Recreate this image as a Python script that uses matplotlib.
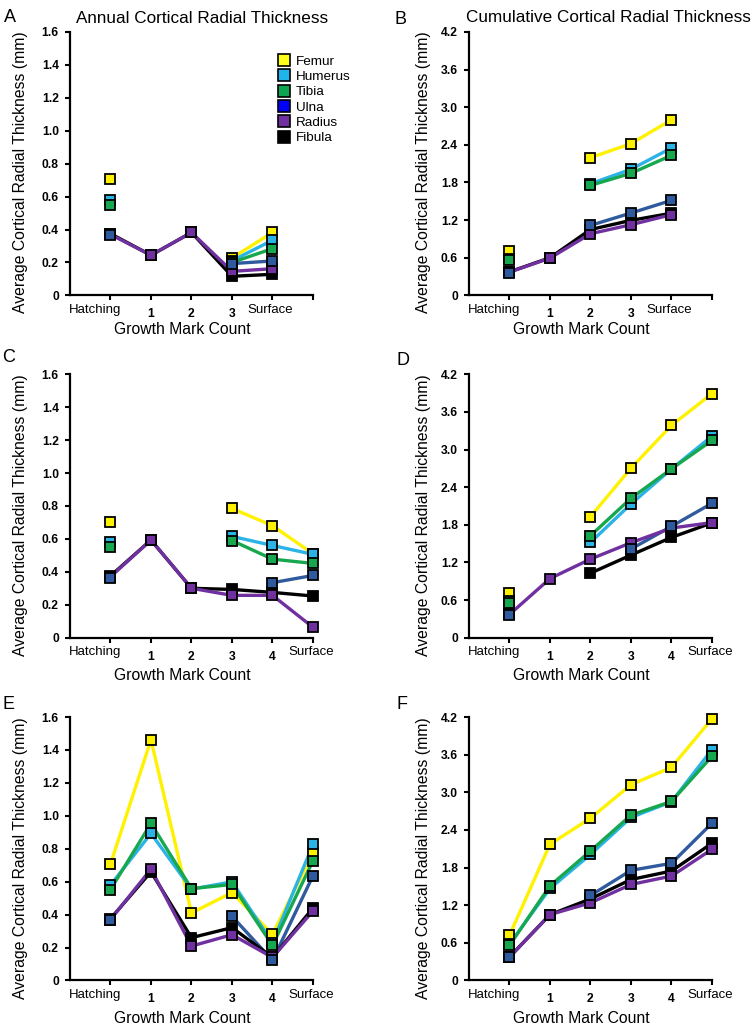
import numpy as np
import matplotlib
matplotlib.use('Agg')
import matplotlib.pyplot as plt
from matplotlib.lines import Line2D
from matplotlib.transforms import ScaledTranslation

plt.rcParams['font.family'] = ['Liberation Sans', 'DejaVu Sans']

nan = np.nan

bones = ['Femur', 'Humerus', 'Tibia', 'Ulna', 'Radius', 'Fibula']
line_colors = {'Femur': '#fff200', 'Humerus': '#2bb3e6', 'Tibia': '#17a84f',
               'Ulna': '#2f5a9e', 'Radius': '#7030a0', 'Fibula': '#000000'}
legend_colors = {'Femur': '#ffff1a', 'Humerus': '#1fb4ea', 'Tibia': '#0ea552',
                 'Ulna': '#0000ff', 'Radius': '#7030a0', 'Fibula': '#000000'}

labels_3 = ['Hatching', '1', '2', '3', 'Surface', '']
labels_4 = ['Hatching', '1', '2', '3', '4', 'Surface']

# A: annual thickness, 3 growth marks
annual_3 = {
    'Femur':   [0.707, nan, nan, 0.227, 0.382],
    'Humerus': [0.580, nan, nan, 0.210, 0.335],
    'Tibia':   [0.552, nan, nan, 0.200, 0.284],
    'Ulna':    [0.365, nan, nan, 0.193, 0.209],
    'Radius':  [0.370, 0.244, 0.382, 0.146, 0.162],
    'Fibula':  [0.375, 0.244, 0.382, 0.116, 0.128],
}
# B: cumulative thickness, 3 growth marks
cumul_3 = {
    'Femur':   [0.707, nan, 2.196, 2.419, 2.800],
    'Humerus': [0.580, nan, 1.780, 2.010, 2.350],
    'Tibia':   [0.558, nan, 1.754, 1.946, 2.233],
    'Ulna':    [0.361, nan, 1.116, 1.313, 1.515],
    'Radius':  [0.370, 0.595, 0.983, 1.127, 1.287],
    'Fibula':  [0.375, 0.600, 1.050, 1.196, 1.310],
}
# C: annual thickness, 4 growth marks (first group)
annual_4a = {
    'Femur':   [0.704, nan, nan, 0.785, 0.680, 0.510],
    'Humerus': [0.580, nan, nan, 0.615, 0.560, 0.506],
    'Tibia':   [0.552, nan, nan, 0.590, 0.477, 0.451],
    'Ulna':    [0.364, nan, nan, nan, 0.334, 0.378],
    'Radius':  [0.370, 0.593, 0.300, 0.257, 0.257, 0.063],
    'Fibula':  [0.375, 0.593, 0.300, 0.293, 0.275, 0.253],
}
# D: cumulative thickness, 4 growth marks (first group)
cumul_4a = {
    'Femur':   [0.709, nan, 1.930, 2.703, 3.385, 3.891],
    'Humerus': [0.580, nan, 1.519, 2.132, 2.690, 3.214],
    'Tibia':   [0.549, nan, 1.626, 2.223, 2.692, 3.145],
    'Ulna':    [0.357, nan, nan, 1.413, 1.775, 2.143],
    'Radius':  [0.370, 0.943, 1.253, 1.514, 1.748, 1.835],
    'Fibula':  [0.375, nan, 1.029, 1.317, 1.599, 1.830],
}
# E: annual thickness, 4 growth marks (second group)
annual_4b = {
    'Femur':   [0.707, 1.462, 0.410, 0.534, 0.280, 0.775],
    'Humerus': [0.579, 0.893, 0.555, 0.599, 0.230, 0.826],
    'Tibia':   [0.552, 0.954, 0.558, 0.583, 0.213, 0.727],
    'Ulna':    [0.365, nan, nan, 0.390, 0.122, 0.636],
    'Radius':  [0.370, 0.676, 0.209, 0.278, 0.140, 0.422],
    'Fibula':  [0.375, 0.660, 0.260, 0.321, 0.140, 0.440],
}
# F: cumulative thickness, 4 growth marks (second group)
cumul_4b = {
    'Femur':   [0.720, 2.172, 2.588, 3.121, 3.399, 4.173],
    'Humerus': [0.580, 1.467, 2.010, 2.600, 2.850, 3.682],
    'Tibia':   [0.560, 1.510, 2.065, 2.636, 2.855, 3.575],
    'Ulna':    [0.368, nan, 1.355, 1.756, 1.868, 2.508],
    'Radius':  [0.370, 1.051, 1.238, 1.531, 1.665, 2.092],
    'Fibula':  [0.375, 1.050, 1.300, 1.610, 1.745, 2.188],
}

annual_ticks = [0, 0.2, 0.4, 0.6, 0.8, 1.0, 1.2, 1.4, 1.6]
cumul_ticks = [0, 0.6, 1.2, 1.8, 2.4, 3.0, 3.6, 4.2]

line_order = ['Femur', 'Humerus', 'Tibia', 'Ulna', 'Fibula', 'Radius']
marker_order = ['Femur', 'Humerus', 'Tibia', 'Fibula', 'Radius', 'Ulna']

fig = plt.figure(figsize=(7.54, 10.31), dpi=100)

left_x, right_x = 0.0928, 0.622
width, height = 0.3223, 0.2555
row_bottoms = [0.7135, 0.3815, 0.049]

panels = [
    ('A', annual_3, labels_3, annual_ticks, left_x, row_bottoms[0]),
    ('B', cumul_3, labels_3, cumul_ticks, right_x, row_bottoms[0]),
    ('C', annual_4a, labels_4, annual_ticks, left_x, row_bottoms[1]),
    ('D', cumul_4a, labels_4, cumul_ticks, right_x, row_bottoms[1]),
    ('E', annual_4b, labels_4, annual_ticks, left_x, row_bottoms[2]),
    ('F', cumul_4b, labels_4, cumul_ticks, right_x, row_bottoms[2]),
]

axes = {}
for letter, data, xlabels, yticks, x0, y0 in panels:
    ax = fig.add_axes([x0, y0, width, height])
    axes[letter] = ax
    for bone in line_order:
        vals = data[bone]
        ax.plot(np.arange(len(vals)), vals, color=line_colors[bone], lw=2.4,
                zorder=2, clip_on=False, solid_capstyle='butt')
    for bone in marker_order:
        vals = data[bone]
        ax.plot(np.arange(len(vals)), vals, ls='none', marker='s', ms=7,
                mfc=line_colors[bone], mec='black', mew=1.3, zorder=3, clip_on=False)

    ax.set_xlim(-1, 5)
    ax.set_ylim(0, yticks[-1])
    ax.set_yticks(yticks)
    ax.set_yticklabels(['0'] + ['%.1f' % t for t in yticks[1:]])
    ax.set_xticks(range(6))
    ax.set_xticklabels(xlabels)

    for s in ['top', 'right']:
        ax.spines[s].set_visible(False)
    for s in ['left', 'bottom']:
        ax.spines[s].set_linewidth(1.6)
    ax.tick_params(axis='y', direction='out', length=3.5, width=1.5, pad=4.5,
                   labelsize=8.7)
    ax.tick_params(axis='x', direction='out', length=3.8, width=1.5, pad=5.5,
                   labelsize=8.7)
    for lab in ax.get_yticklabels():
        lab.set_fontweight('bold')
    for lab in ax.get_xticklabels():
        t = lab.get_text()
        if t == 'Hatching':
            dx, dy = -15, 4.5
        elif t == 'Surface':
            dx, dy = -2, 4.5
        else:
            lab.set_fontweight('bold')
            continue
        lab.set_fontsize(9.5)
        lab.set_transform(lab.get_transform() +
                          ScaledTranslation(dx / 100, dy / 100, fig.dpi_scale_trans))

    ax.set_ylabel('Average Cortical Radial Thickness (mm)', fontsize=11.3)
    ax.set_xlabel('Growth Mark Count', fontsize=11.3)
    ax.yaxis.set_label_coords(-0.173 if x0 == left_x else -0.157, 0.466)
    ax.xaxis.set_label_coords(0.462, -0.10 if letter in 'AB' else -0.115)
    ax.xaxis.label.set_va('top')

axes['A'].set_title('Annual Cortical Radial Thickness', fontsize=12.3, x=0.543, pad=6.5)
axes['B'].set_title('Cumulative Cortical Radial Thickness', fontsize=12.3, x=0.574, pad=7)

handles = [Line2D([], [], ls='none', marker='s', ms=8.5, mfc=legend_colors[b],
                  mec='black', mew=1.2) for b in bones]
axes['A'].legend(handles, bones, loc='upper left', bbox_to_anchor=(0.82, 0.948),
                 frameon=False, fontsize=9.7, handlelength=0.8, handletextpad=0.45,
                 labelspacing=0.22, borderpad=0.2)

letter_pos = {'A': (4, 9), 'B': (395, 11), 'C': (2, 349), 'D': (397, 352),
              'E': (2, 696), 'F': (397, 696)}
for letter, (px, py) in letter_pos.items():
    fig.text(px / 754, 1 - py / 1031, letter, fontsize=13, va='top', ha='left')

fig.savefig('out.png', dpi=100, facecolor='white')
